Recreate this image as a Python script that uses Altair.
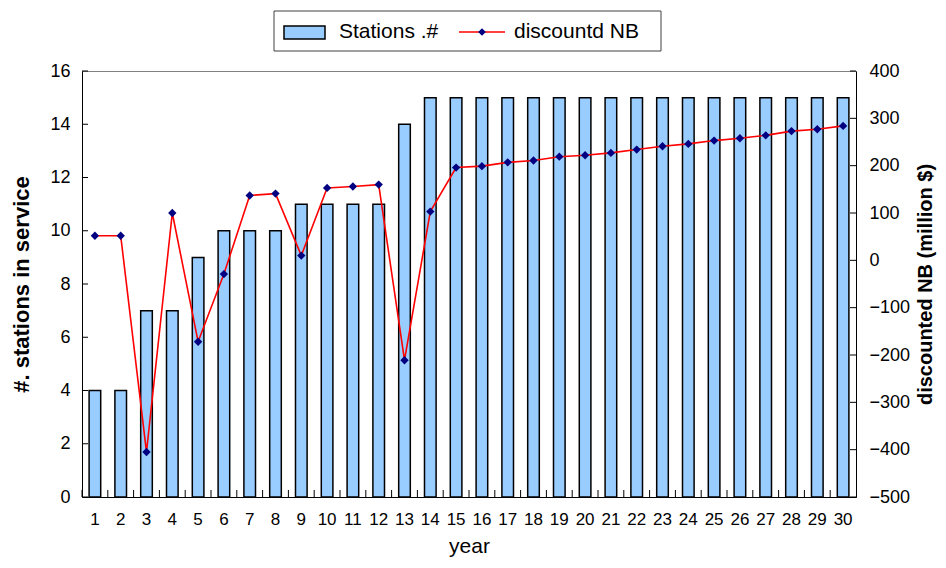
import altair as alt
import pandas as pd

years = list(range(1, 31))
stations = [4, 4, 7, 7, 9, 10, 10, 10, 11, 11, 11, 11, 14,
            15, 15, 15, 15, 15, 15, 15, 15, 15, 15, 15, 15, 15, 15, 15, 15, 15]
discounted_nb = [52, 52, -405, 100, -172, -29, 137, 141, 10, 153, 156, 160, -211,
                 103, 196, 199, 207, 211, 219, 222, 227, 234, 241, 246, 253, 258,
                 264, 273, 277, 284]
left_ticks = [0, 2, 4, 6, 8, 10, 12, 14, 16]
right_ticks = [-500, -400, -300, -200, -100, 0, 100, 200, 300, 400]

W, H = 774, 426
FONT = "Liberation Sans"

df = pd.DataFrame({"year": years, "stations": stations, "nb": discounted_nb})
df_lt = pd.DataFrame({"stations": left_ticks})
df_rt = pd.DataFrame({"nb": right_ticks})
df_xt = pd.DataFrame({"year": years})

xscale = alt.Scale(paddingInner=0, paddingOuter=0)
xaxis = alt.Axis(title="year", labelAngle=0, ticks=False, domainColor="black",
                 labelFontSize=17, labelPadding=14, titleFontSize=21,
                 titleFontWeight="normal", titlePadding=8, labelColor="black",
                 titleColor="black", labelFont=FONT, titleFont=FONT)
yleft_axis = alt.Axis(orient="left", title="#. stations in service", values=left_ticks,
                      ticks=False, grid=False, domainColor="black",
                      labelFontSize=18, labelPadding=12, labelColor="black",
                      titleFontSize=22, titleFontWeight="bold", titlePadding=16,
                      titleColor="black", labelFont=FONT, titleFont=FONT)
yright_axis = alt.Axis(orient="right", title="discounted NB (million $)", values=right_ticks,
                       ticks=False, grid=False, domainColor="black",
                       labelFontSize=18, labelPadding=13, labelColor="black",
                       titleFontSize=20, titleFontWeight="bold", titlePadding=6,
                       titleAngle=270, titleBaseline="top",
                       titleColor="black", labelFont=FONT, titleFont=FONT)

yleft_scale = alt.Scale(domain=[0, 16], nice=False, zero=False)
yright_scale = alt.Scale(domain=[-500, 400], nice=False, zero=False)

xenc = alt.X("year:O", scale=xscale, sort=years, axis=xaxis)
yl = alt.Y("stations:Q", scale=yleft_scale, axis=yleft_axis)
yr = alt.Y("nb:Q", scale=yright_scale, axis=yright_axis)

bars = alt.Chart(df).mark_bar(
    color="#99CCFF", stroke="black", strokeWidth=1.5,
    width=alt.RelativeBandSize(0.45)
).encode(x=xenc, y=yl)

lt = alt.Chart(df_lt).mark_rule(color="black", strokeWidth=1).encode(
    y=yl, x=alt.value(0), x2=alt.value(6),
)

xt = alt.Chart(df_xt).mark_rule(color="black", strokeWidth=1).encode(
    x=alt.X("year:O", scale=xscale, sort=years, axis=xaxis, bandPosition=0),
    y=alt.value(H - 7), y2=alt.value(H),
)

left = alt.layer(bars, lt, xt)

line = alt.Chart(df).mark_line(color="#FF0000", strokeWidth=1.6).encode(x=xenc, y=yr)
pts = alt.Chart(df).mark_point(shape="diamond", filled=True, color="#000080",
                               size=70, opacity=1).encode(x=xenc, y=yr)
rt = alt.Chart(df_rt).mark_rule(color="black", strokeWidth=1).encode(
    y=yr, x=alt.value(W - 6), x2=alt.value(W),
)
right = alt.layer(line, pts, rt)

# legend (plot-relative pixel positions)
leg_df = pd.DataFrame({"k": [0]})
leg_box = alt.Chart(leg_df).mark_rect(fill="white", stroke="#404040", strokeWidth=1).encode(
    x=alt.value(192), x2=alt.value(579), y=alt.value(-60), y2=alt.value(-20))
leg_sw = alt.Chart(leg_df).mark_rect(fill="#99CCFF", stroke="black", strokeWidth=1.5).encode(
    x=alt.value(202), x2=alt.value(243), y=alt.value(-45), y2=alt.value(-32))
leg_t1 = alt.Chart(leg_df).mark_text(align="left", baseline="middle", fontSize=21,
                                     font=FONT, color="black").encode(
    x=alt.value(257), y=alt.value(-39), text=alt.value("Stations .#"))
leg_ln = alt.Chart(leg_df).mark_rule(color="#FF0000", strokeWidth=1.6).encode(
    x=alt.value(377), x2=alt.value(423), y=alt.value(-39))
leg_pt = alt.Chart(leg_df).mark_point(shape="diamond", filled=True, color="#000080",
                                      size=60, opacity=1).encode(
    x=alt.value(400), y=alt.value(-39))
leg_t2 = alt.Chart(leg_df).mark_text(align="left", baseline="middle", fontSize=21,
                                     font=FONT, color="black").encode(
    x=alt.value(432), y=alt.value(-39), text=alt.value("discountd NB"))

chart = alt.layer(
    left, right, leg_box, leg_sw, leg_t1, leg_ln, leg_pt, leg_t2
).resolve_scale(y="independent").properties(
    width=W, height=H,
    autosize=alt.AutoSizeParams(type="none"),
    padding={"left": 74, "top": 63, "right": 82, "bottom": 63},
).configure(font=FONT).configure_view(stroke="#808080", strokeWidth=1)

chart.save("out.html", embed_options={"renderer": "svg", "actions": False})
